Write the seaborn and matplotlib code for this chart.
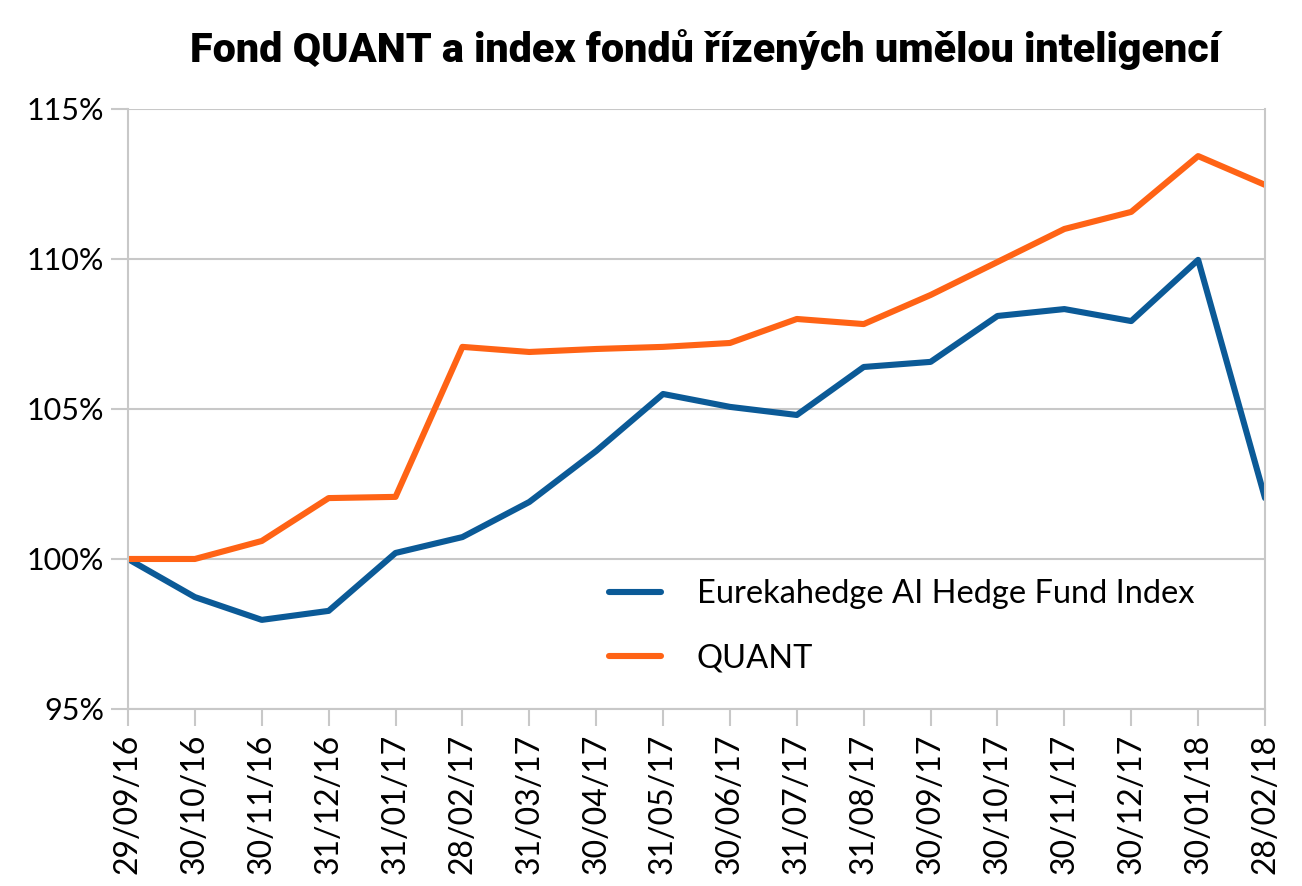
import matplotlib.pyplot as plt
import seaborn as sns
import pandas as pd

# data (% of start value)
dates = ["29/09/16", "30/10/16", "30/11/16", "31/12/16", "31/01/17", "28/02/17",
         "31/03/17", "30/04/17", "31/05/17", "30/06/17", "31/07/17", "31/08/17",
         "30/09/17", "30/10/17", "30/11/17", "30/12/17", "30/01/18", "28/02/18"]
eurekahedge = [100.0, 98.73, 97.97, 98.27, 100.2, 100.73, 101.9, 103.6, 105.5,
               105.07, 104.8, 106.4, 106.57, 108.1, 108.33, 107.93, 109.97, 102.03]
quant = [100.0, 100.0, 100.6, 102.03, 102.07, 107.07, 106.9, 107.0, 107.07,
         107.2, 108.0, 107.83, 108.8, 109.9, 111.0, 111.57, 113.43, 112.47]
series_names = ["Eurekahedge AI Hedge Fund Index", "QUANT"]

df = pd.DataFrame({
    "date": dates * 2,
    "value": eurekahedge + quant,
    "series": [series_names[0]] * len(dates) + [series_names[1]] * len(dates),
})

sns.set_style("white")
plt.rcParams["font.family"] = ["Lato", "DejaVu Sans"]
plt.rcParams["text.color"] = "black"
plt.rcParams["xtick.labelcolor"] = "black"
plt.rcParams["ytick.labelcolor"] = "black"

fig = plt.figure(figsize=(13.02, 8.86), dpi=100)
ax = fig.add_axes([0.0983, 0.1998, 0.8733, 0.6772])

sns.lineplot(data=df, x="date", y="value", hue="series", hue_order=series_names,
             palette=["#0b5a97", "#ff6315"], linewidth=4.4, sort=False, ax=ax)

grid = "#c8c8c8"
ax.set_ylim(95, 115)
ax.set_yticks([95, 100, 105, 110, 115])
ax.set_yticklabels(["95%", "100%", "105%", "110%", "115%"])
ax.set_xlim(0, len(dates) - 1)
ax.yaxis.grid(True, color=grid, linewidth=1.5)
ax.xaxis.grid(False)
for s in ["left", "right", "bottom"]:
    ax.spines[s].set_color(grid)
    ax.spines[s].set_linewidth(1.5)
ax.spines["top"].set_visible(False)

ax.tick_params(axis="x", labelrotation=90, labelsize=23, length=12, width=1.5,
               color=grid, bottom=True, pad=6)
ax.tick_params(axis="y", labelsize=22, length=12, width=1.5, color=grid, left=True, pad=5)
ax.set_xlabel("")
ax.set_ylabel("")

leg = ax.legend(loc="upper left", bbox_to_anchor=(0.397, 0.265), frameon=False,
                fontsize=23.5, handlelength=1.6, handletextpad=1.1, labelspacing=1.05)

fig.text(0.5415, 0.944, "Fond QUANT a index fondů řízených umělou inteligencí",
         ha="center", va="center", fontsize=29.7, fontweight="heavy",
         family=["Roboto", "DejaVu Sans"])

fig.savefig("out.png", dpi=100, facecolor="white")
